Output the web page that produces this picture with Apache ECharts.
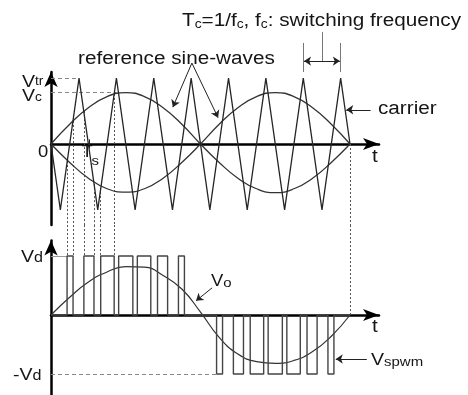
<!DOCTYPE html>
<html><head><meta charset="utf-8">
<script src="https://cdn.jsdelivr.net/npm/echarts@6/dist/echarts.min.js"></script>
<style>html,body{margin:0;padding:0;background:#fff}#c{width:468px;height:395px}</style>
</head><body><div id="c"></div>
<script>
// ---------- data (time in carrier periods Tc, voltage in p.u.) ----------
const carrierT = [0,0.25,0.75,1.25,1.75,2.25,2.75,3.25,3.75,4.25,4.75,5.25,5.75,6.25,6.75,7.25,7.75,8];
const carrierV = [0,-1,1,-1,1,-1,1,-1,1,-1,1,-1,1,-1,1,-1,1,0];
const sineT    = [0,0.5,1,1.5,2,2.5,3,3.5,4,4.5,5,5.5,6,6.5,7,7.5,8];
const refSineA = [0,0.30,0.55,0.72,0.78,0.72,0.55,0.30,0,-0.28,-0.52,-0.68,-0.74,-0.68,-0.52,-0.28,0];
const refSineB = [0,-0.28,-0.52,-0.68,-0.73,-0.68,-0.52,-0.28,0,0.30,0.55,0.72,0.78,0.72,0.55,0.30,0];
const voValues = [0,0.30,0.56,0.73,0.82,0.81,0.67,0.44,0.05,-0.38,-0.66,-0.79,-0.82,-0.77,-0.62,-0.36,0];
const pulseStart = [0.43,0.88,1.33,1.81,2.31,2.85,3.41,4.43,4.88,5.33,5.81,6.31,6.85,7.41];
const pulseEnd   = [0.59,1.15,1.69,2.19,2.67,3.12,3.57,4.59,5.15,5.69,6.19,6.67,7.12,7.57];
const pulseLevel = [1,1,1,1,1,1,1,-1,-1,-1,-1,-1,-1,-1];
const vtrLevel = 1, vcLevel = 0.78, vdLevel = 1;
const vcEndT = 1.75, periodEndT = 8;
// carrier / reference intersections projected down to the output
const projT = [0.43,0.59,0.88,1.15,1.33,1.69];
const projV = [-0.26,0.35,0.50,-0.61,-0.67,0.76];

// ---------- layout ----------
const XMAX = 8.776;
const TOP_Y = [-1.231, 1.094];
const BOT_Y = [-1.356, 1.263];
const BOT_JOIN = 1.525; // bottom-grid value at the top grid's lower edge

const FONT = '"Liberation Sans", Arial, Helvetica, sans-serif';
const SX = 1.15;
const mctx = document.createElement('canvas').getContext('2d');
function tw(t, fs){ mctx.font = fs + 'px ' + FONT; return mctx.measureText(t).width * SX; }
function label(x, baseline, parts){
  let cx = x; const out = [];
  for (const [t, fs, dy] of parts){
    out.push({type:'text', x:cx, y: baseline + (dy||0) - 0.35*fs, scaleX:SX, silent:true, z:100,
      style:{text:t, fontSize:fs, fontFamily:FONT, fill:'#151515', align:'left', verticalAlign:'middle'}});
    cx += tw(t, fs);
  }
  return out;
}
const xy = (xs, ys) => xs.map((x,i)=>[x, ys[i]]);

const pulseLine = [[0,0]];
pulseStart.forEach((s,i)=>{
  pulseLine.push([s,0],[s,pulseLevel[i]],[pulseEnd[i],pulseLevel[i]],[pulseEnd[i],0]);
});
pulseLine.push([periodEndT,0]);

const topConn = projT.map((t,i)=>({coords:[[t,projV[i]],[t,TOP_Y[0]]]}));
topConn.push({coords:[[periodEndT,0],[periodEndT,TOP_Y[0]]]});
const botConn = projT.map(t=>({coords:[[t,BOT_JOIN],[t,vdLevel]]}));
botConn.push({coords:[[periodEndT,BOT_JOIN],[periodEndT,0]]});

const axisX = g => ({gridIndex:g, type:'value', min:0, max:XMAX,
  axisLine:{show:true, onZero:true, lineStyle:{color:'#000', width:2.5}, symbol:['none','arrow'], symbolSize:[9,16]},
  axisTick:{show:false}, axisLabel:{show:false}, splitLine:{show:false}});
const axisY = (g, r) => ({gridIndex:g, type:'value', min:r[0], max:r[1],
  axisLine:{show:true, onZero:false, lineStyle:{color:'#000', width:2.5}, symbol:['none','arrow'], symbolSize:[10,15]},
  axisTick:{show:false}, axisLabel:{show:false}, splitLine:{show:false}});

const linesS = (g, data, style, sym) => ({type:'lines', coordinateSystem:'cartesian2d', xAxisIndex:g, yAxisIndex:g,
  clip:false, silent:true, symbol: sym || 'none', symbolSize: 7,
  lineStyle: Object.assign({opacity:1, curveness:0}, style), data});

const chart = echarts.init(document.getElementById('c'), null, {renderer:'canvas'});
chart.setOption({
  animation:false,
  backgroundColor:'#fff',
  grid:[{left:51, right:89, top:72, bottom:170},{left:51, right:89, top:240.5, bottom:0}],
  xAxis:[axisX(0), axisX(1)],
  yAxis:[axisY(0, TOP_Y), axisY(1, BOT_Y)],
  series:[
    {type:'line', xAxisIndex:0, yAxisIndex:0, data:xy(sineT, refSineA), smooth:true, symbol:'none', lineStyle:{color:'#333', width:1.3}},
    {type:'line', xAxisIndex:0, yAxisIndex:0, data:xy(sineT, refSineB), smooth:true, symbol:'none', lineStyle:{color:'#333', width:1.3}},
    {type:'line', xAxisIndex:0, yAxisIndex:0, data:xy(carrierT, carrierV), symbol:'none', lineStyle:{color:'#262626', width:1.3}},
    linesS(0, [{coords:[[0,vtrLevel],[carrierT[2],vtrLevel]]},{coords:[[0,vcLevel],[vcEndT,vcLevel]]}], {color:'#888', width:1, type:[4,3]}),
    linesS(0, topConn, {color:'#555', width:1, type:[2,2]}),
    linesS(0, [{coords:[[1.03,0.07],[1.03,-0.07]]}], {color:'#222', width:1}),
    linesS(0, [{coords:[[6.75,1.535],[6.75,1.094]]},{coords:[[7.75,1.535],[7.75,1.094]]},{coords:[[7.25,1.70],[7.25,1.26]]}], {color:'#777', width:1}),
    linesS(0, [{coords:[[3.77,1.23],[3.26,0.56]]},{coords:[[3.77,1.23],[4.47,0.40]]},{coords:[[8.55,0.52],[7.9,0.52]]},
               {coords:[[7.25,1.26],[6.77,1.26]]},{coords:[[7.25,1.26],[7.73,1.26]]}], {color:'#222', width:1}, ['none','arrow']),

    {type:'line', xAxisIndex:1, yAxisIndex:1, data:xy(sineT, voValues), smooth:true, symbol:'none', lineStyle:{color:'#333', width:1.2}},
    {type:'line', xAxisIndex:1, yAxisIndex:1, data:pulseLine, symbol:'none', lineStyle:{color:'#444', width:1.4}},
    linesS(1, [{coords:[[0,vdLevel],[pulseStart[0],vdLevel]]}], {color:'#999', width:1}),
    linesS(1, [{coords:[[0,-vdLevel],[pulseStart[7],-vdLevel]]}], {color:'#888', width:1, type:[4,3]}),
    linesS(1, botConn, {color:'#555', width:1, type:[2,2]}),
    linesS(1, [{coords:[[4.31,0.46],[3.88,0.24]]},{coords:[[8.45,-0.746],[7.62,-0.746]]}], {color:'#222', width:1}, ['none','arrow'])
  ],
  graphic:[].concat(
    label(182, 27, [['T',18],['c',12,2],['=1/f',18],['c',12,2],[', f',18],['c',12,2],[': switching frequency',18]]),
    label(78, 65, [['reference sine-waves',18]]),
    label(378, 115, [['carrier',18]]),
    label(22, 88, [['V',17],['tr',12,-2]]),
    label(22, 102, [['V',17],['c',12,0]]),
    label(38, 158, [['0',16]]),
    label(81.5, 158, [['T',16]]),
    label(91.5, 166, [['s',13]]),
    label(372, 163, [['t',18]]),
    label(372, 333, [['t',18]]),
    label(21, 263, [['V',17],['d',14]]),
    label(13, 381, [['-V',17],['d',14]]),
    label(211, 287, [['V',16],['o',13,1]]),
    label(371, 366, [['V',17],['spwm',13,1]])
  )
});
</script>
</body></html>
